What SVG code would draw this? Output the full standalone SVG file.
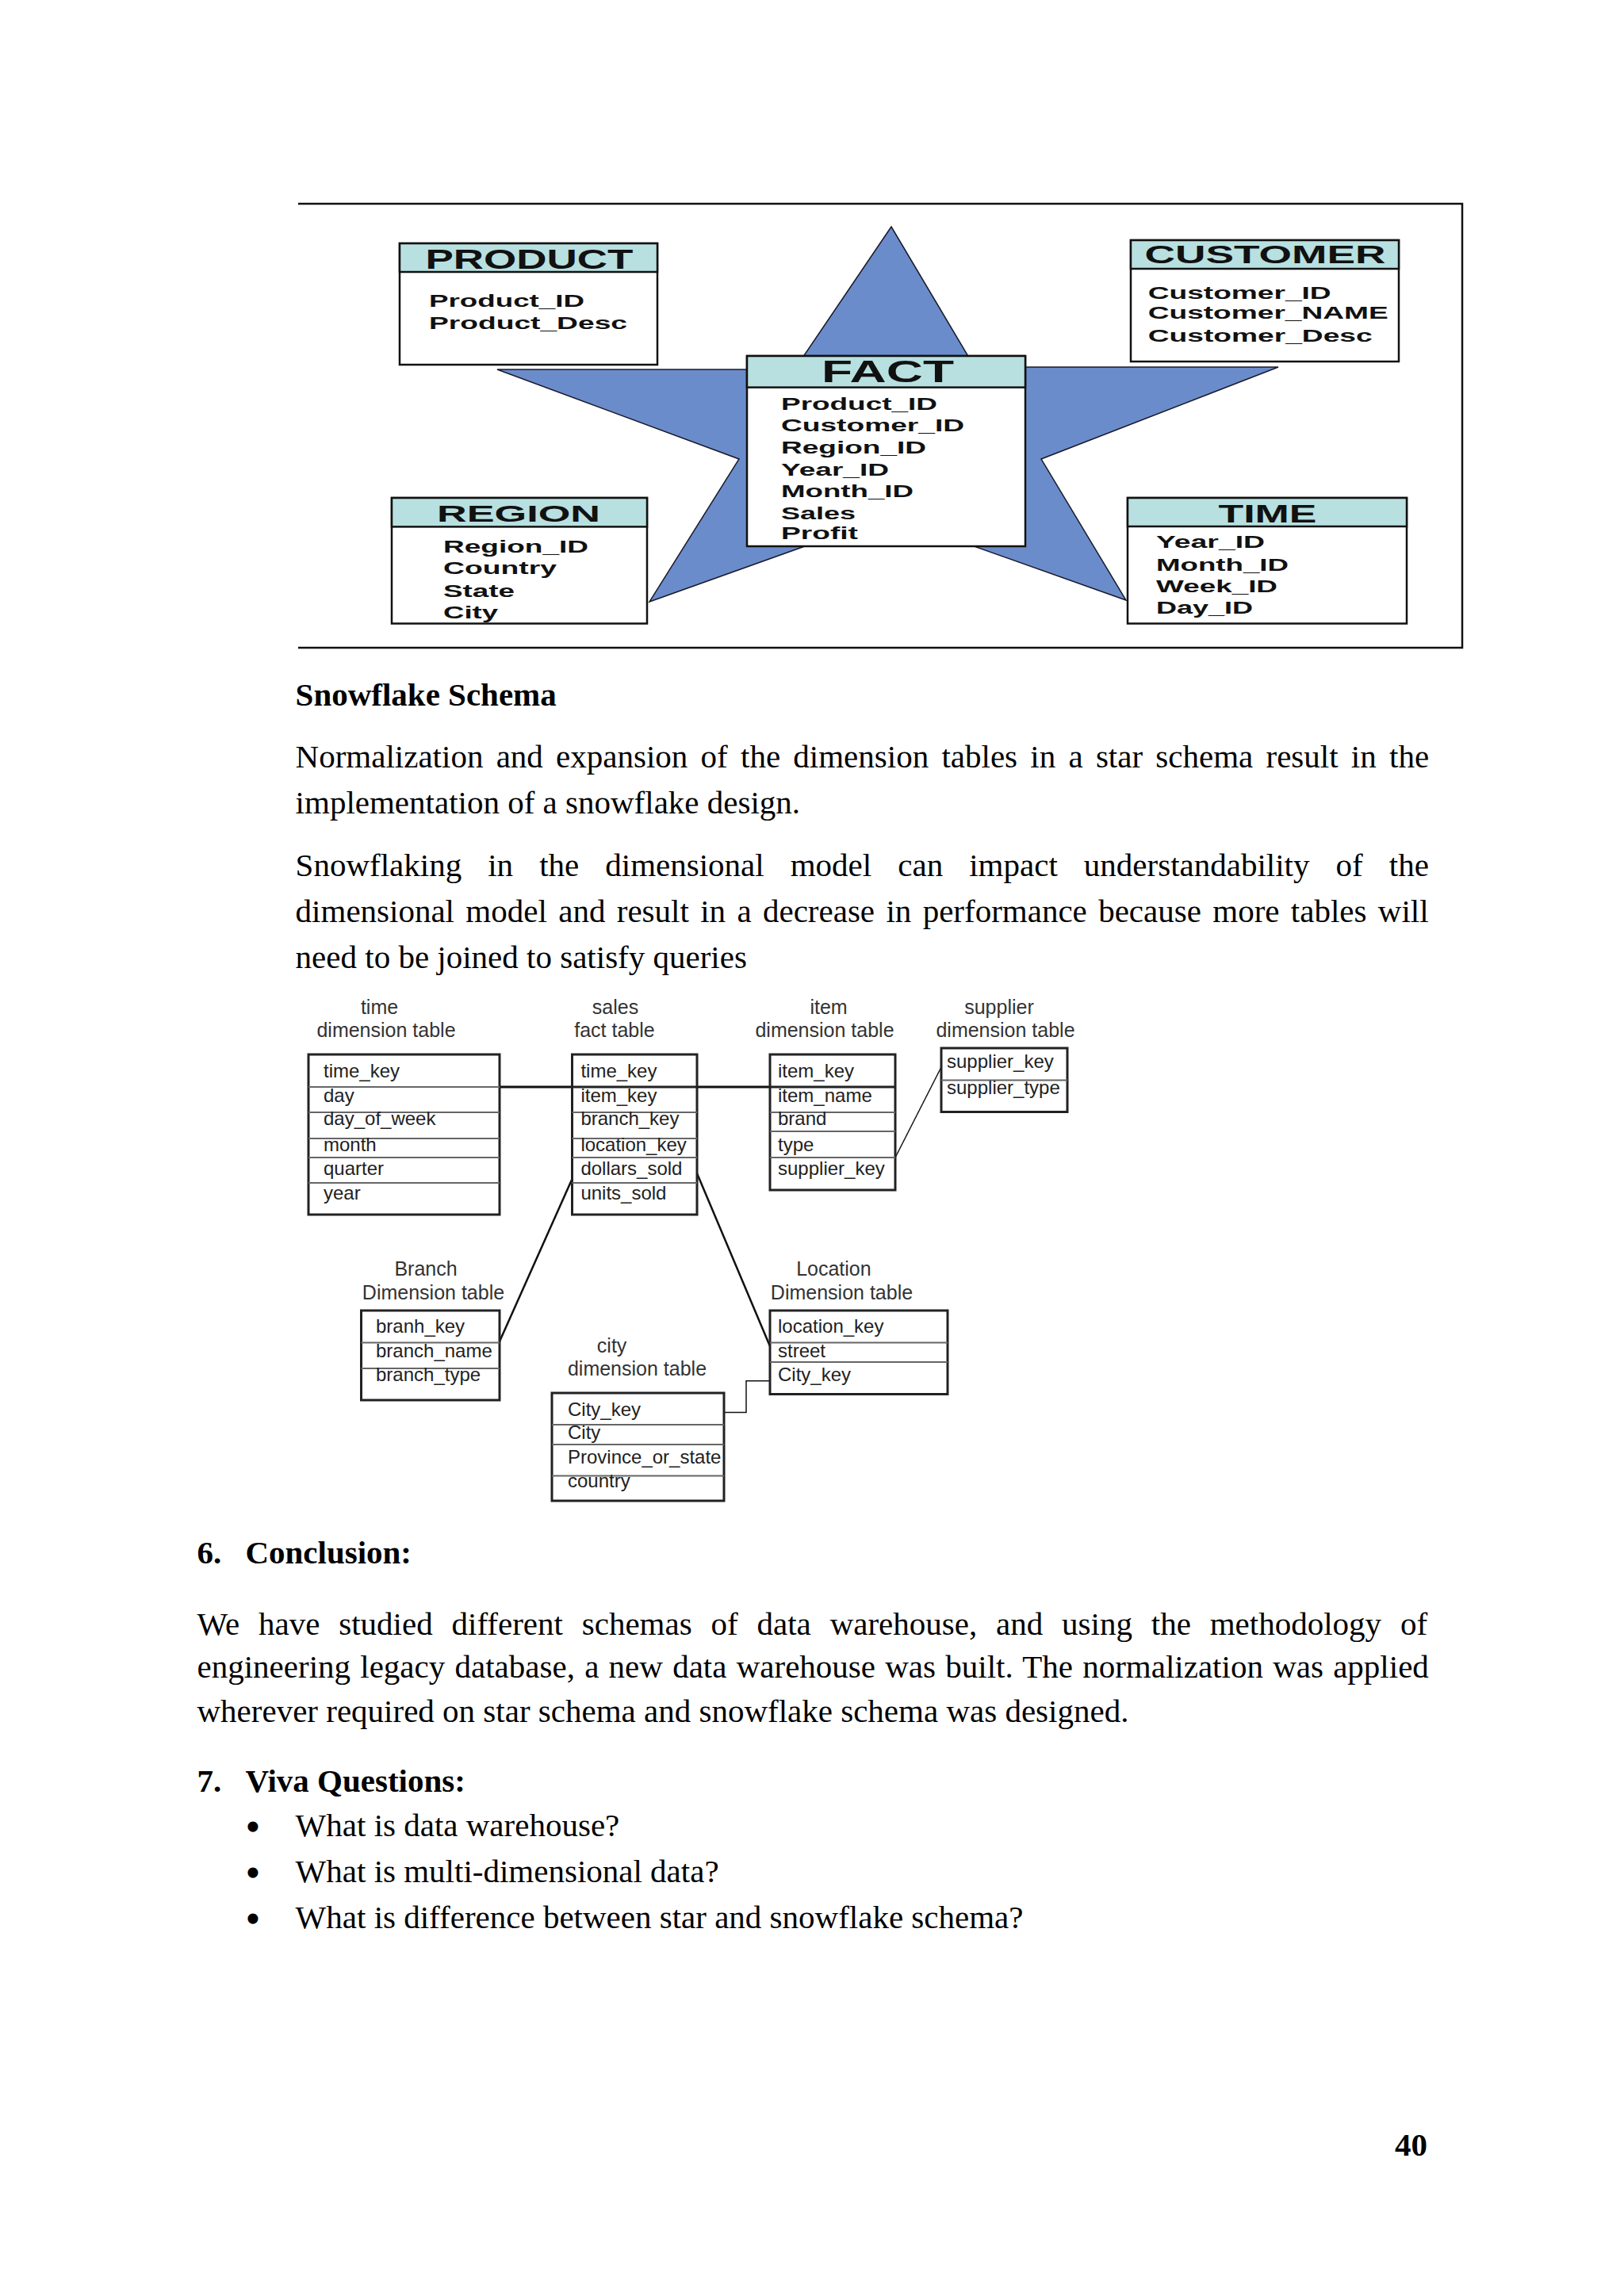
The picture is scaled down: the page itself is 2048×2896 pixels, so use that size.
<svg xmlns="http://www.w3.org/2000/svg" width="2048" height="2896" viewBox="0 0 2048 2896">
<style>
.frame{stroke:#111;stroke-width:2.5;fill:none}
.star{fill:#6B8CCB;stroke:#1a1a2a;stroke-width:1.5}
.box{fill:#fff;stroke:#111;stroke-width:2.5}
.hdr{fill:#B8E0E0;stroke:#111;stroke-width:2.5}
.ht{font-family:"Liberation Sans",Arial,sans-serif;font-weight:bold;fill:#111}
.ft{font-family:"Liberation Sans",Arial,sans-serif;font-weight:bold;font-size:22px;fill:#111}
.tb{fill:#fff;stroke:#222;stroke-width:3}
.rl{stroke:#666;stroke-width:2}
.st{font-family:"Liberation Sans",Arial,sans-serif;font-size:24px;fill:#222}
.lb{font-family:"Liberation Sans",Arial,sans-serif;font-size:25px;fill:#333;text-anchor:middle}
.con{stroke:#111;fill:none}
.body{font-family:"Liberation Serif","Times New Roman",serif;font-size:41px;fill:#000}
.bold{font-weight:bold}
.bul{font-family:"Liberation Serif","Times New Roman",serif;font-size:48px;font-weight:bold;fill:#000;text-anchor:middle}
</style>
<rect width="2048" height="2896" fill="#fff"/>

<g id="star-schema">
  <path class="frame" d="M376 257 H1844 V817 H376"/>
  <polygon id="star" class="star" points="1124,286 1229,463 1612,463 1313,579 1420,757 1121,651 819,759 932,579 627,466 1002,466"/>

  <g id="product">
    <rect class="box" x="504" y="307" width="325" height="153"/>
    <rect class="hdr" x="504" y="307" width="325" height="36"/>
    <text class="ht" x="536.5" y="339" font-size="35" textLength="262" lengthAdjust="spacingAndGlyphs">PRODUCT</text>
    <text class="ft" x="541" y="387" textLength="196" lengthAdjust="spacingAndGlyphs">Product_ID</text>
    <text class="ft" x="541" y="414.6" textLength="250" lengthAdjust="spacingAndGlyphs">Product_Desc</text>
  </g>

  <g id="customer">
    <rect class="box" x="1426" y="303" width="338" height="153"/>
    <rect class="hdr" x="1426" y="303" width="338" height="36"/>
    <text class="ht" x="1443.5" y="332" font-size="32" textLength="304" lengthAdjust="spacingAndGlyphs">CUSTOMER</text>
    <text class="ft" x="1447.7" y="377" textLength="231" lengthAdjust="spacingAndGlyphs">Customer_ID</text>
    <text class="ft" x="1447.7" y="402.4" textLength="303" lengthAdjust="spacingAndGlyphs">Customer_NAME</text>
    <text class="ft" x="1447.7" y="430.6" textLength="283" lengthAdjust="spacingAndGlyphs">Customer_Desc</text>
  </g>

  <g id="fact">
    <rect class="box" x="942" y="449" width="351" height="240"/>
    <rect class="hdr" x="942" y="449" width="351" height="39.6"/>
    <text class="ht" x="1036" y="482" font-size="38" textLength="167" lengthAdjust="spacingAndGlyphs">FACT</text>
    <text class="ft" x="985" y="517" textLength="197" lengthAdjust="spacingAndGlyphs">Product_ID</text>
    <text class="ft" x="985" y="544" textLength="231" lengthAdjust="spacingAndGlyphs">Customer_ID</text>
    <text class="ft" x="985" y="572" textLength="183" lengthAdjust="spacingAndGlyphs">Region_ID</text>
    <text class="ft" x="985" y="600" textLength="136" lengthAdjust="spacingAndGlyphs">Year_ID</text>
    <text class="ft" x="985" y="627" textLength="167" lengthAdjust="spacingAndGlyphs">Month_ID</text>
    <text class="ft" x="985" y="655" textLength="94" lengthAdjust="spacingAndGlyphs">Sales</text>
    <text class="ft" x="985" y="680" textLength="97" lengthAdjust="spacingAndGlyphs">Profit</text>
  </g>

  <g id="region">
    <rect class="box" x="494" y="628" width="322" height="158.5"/>
    <rect class="hdr" x="494" y="628" width="322" height="36.4"/>
    <text class="ht" x="551" y="658" font-size="30" textLength="206" lengthAdjust="spacingAndGlyphs">REGION</text>
    <text class="ft" x="559" y="697" textLength="183" lengthAdjust="spacingAndGlyphs">Region_ID</text>
    <text class="ft" x="559" y="723.6" textLength="143" lengthAdjust="spacingAndGlyphs">Country</text>
    <text class="ft" x="559" y="752.5" textLength="90" lengthAdjust="spacingAndGlyphs">State</text>
    <text class="ft" x="559" y="780" textLength="69" lengthAdjust="spacingAndGlyphs">City</text>
  </g>

  <g id="time">
    <rect class="box" x="1422" y="628" width="352" height="158.5"/>
    <rect class="hdr" x="1422" y="628" width="352" height="36"/>
    <text class="ht" x="1536.5" y="659" font-size="31" textLength="124" lengthAdjust="spacingAndGlyphs">TIME</text>
    <text class="ft" x="1458" y="691.4" textLength="137" lengthAdjust="spacingAndGlyphs">Year_ID</text>
    <text class="ft" x="1458" y="720" textLength="167" lengthAdjust="spacingAndGlyphs">Month_ID</text>
    <text class="ft" x="1458" y="747" textLength="153" lengthAdjust="spacingAndGlyphs">Week_ID</text>
    <text class="ft" x="1458" y="773.6" textLength="122" lengthAdjust="spacingAndGlyphs">Day_ID</text>
  </g>
</g>

<g id="snowflake">
  <g id="connectors">
    <line class="con" stroke-width="3" x1="630" y1="1371" x2="721.5" y2="1371"/>
    <line class="con" stroke-width="3" x1="879" y1="1371" x2="971" y2="1371"/>
    <line class="con" stroke-width="1.5" x1="1129" y1="1460" x2="1187" y2="1346"/>
    <line class="con" stroke-width="2.5" x1="721.5" y1="1487" x2="630" y2="1692"/>
    <line class="con" stroke-width="2.5" x1="879" y1="1480" x2="971" y2="1698"/>
    <polyline class="con" stroke="#555" stroke-width="1.5" points="913,1781.6 941,1781.6 941,1741.7 971,1741.7"/>
  </g>

  <g id="time-dim">
    <text class="lb" x="478.5" y="1279">time</text>
    <text class="lb" x="487" y="1308">dimension table</text>
    <rect class="tb" x="389" y="1330" width="241" height="202"/>
    <path class="rl" d="M389 1371H630M389 1403H630M389 1436H630M389 1460H630M389 1492H630"/>
    <text class="st" x="408" y="1359">time_key</text>
    <text class="st" x="408" y="1390">day</text>
    <text class="st" x="408" y="1419">day_of_week</text>
    <text class="st" x="408" y="1452">month</text>
    <text class="st" x="408" y="1481.5">quarter</text>
    <text class="st" x="408" y="1513">year</text>
  </g>

  <g id="sales-fact">
    <text class="lb" x="776" y="1279">sales</text>
    <text class="lb" x="775" y="1308">fact table</text>
    <rect class="tb" x="721.5" y="1330" width="157.5" height="202"/>
    <path class="rl" d="M721.5 1403H879M721.5 1436H879M721.5 1460H879M721.5 1492H879"/>
    <line x1="721.5" y1="1371" x2="879" y2="1371" stroke="#222" stroke-width="3"/>
    <text class="st" x="732.4" y="1359">time_key</text>
    <text class="st" x="732.4" y="1390">item_key</text>
    <text class="st" x="732.4" y="1419">branch_key</text>
    <text class="st" x="732.4" y="1452">location_key</text>
    <text class="st" x="732.4" y="1481.5">dollars_sold</text>
    <text class="st" x="732.4" y="1513">units_sold</text>
  </g>

  <g id="item-dim">
    <text class="lb" x="1045" y="1279">item</text>
    <text class="lb" x="1040" y="1308">dimension table</text>
    <rect class="tb" x="971" y="1330" width="158" height="171"/>
    <path class="rl" d="M971 1403H1129M971 1427H1129M971 1460H1129"/>
    <line x1="971" y1="1371" x2="1129" y2="1371" stroke="#222" stroke-width="3"/>
    <text class="st" x="981" y="1359">item_key</text>
    <text class="st" x="981" y="1390">item_name</text>
    <text class="st" x="981" y="1419">brand</text>
    <text class="st" x="981" y="1452">type</text>
    <text class="st" x="981" y="1481.5">supplier_key</text>
  </g>

  <g id="supplier-dim">
    <text class="lb" x="1260" y="1279">supplier</text>
    <text class="lb" x="1268" y="1308">dimension table</text>
    <rect class="tb" x="1187" y="1322" width="159" height="80.5"/>
    <path class="rl" d="M1187 1362.5H1346"/>
    <text class="st" x="1194" y="1347">supplier_key</text>
    <text class="st" x="1194" y="1380">supplier_type</text>
  </g>

  <g id="branch-dim">
    <text class="lb" x="537" y="1609">Branch</text>
    <text class="lb" x="546.5" y="1638.5">Dimension table</text>
    <rect class="tb" x="455.5" y="1653" width="174.5" height="113"/>
    <path class="rl" d="M455.5 1693.5H630M455.5 1726H630"/>
    <text class="st" x="474" y="1681">branh_key</text>
    <text class="st" x="474" y="1711.5">branch_name</text>
    <text class="st" x="474" y="1742">branch_type</text>
  </g>

  <g id="location-dim">
    <text class="lb" x="1051.4" y="1609">Location</text>
    <text class="lb" x="1061.5" y="1638.5">Dimension table</text>
    <rect class="tb" x="971" y="1653" width="224" height="105.5"/>
    <path class="rl" d="M971 1693.5H1195M971 1718H1195"/>
    <text class="st" x="981" y="1681">location_key</text>
    <text class="st" x="981" y="1711.5">street</text>
    <text class="st" x="981" y="1742">City_key</text>
  </g>

  <g id="city-dim">
    <text class="lb" x="771.6" y="1706">city</text>
    <text class="lb" x="803.5" y="1734.5">dimension table</text>
    <rect class="tb" x="696" y="1757" width="217" height="136"/>
    <path class="rl" d="M696 1797H913M696 1822H913M696 1861.5H913"/>
    <text class="st" x="716" y="1786">City_key</text>
    <text class="st" x="716" y="1815">City</text>
    <text class="st" x="716" y="1846">Province_or_state</text>
    <text class="st" x="716" y="1876">country</text>
  </g>
</g>

<g id="text">
  <text class="body bold" x="372.6" y="890">Snowflake Schema</text>
  <text class="body" x="372.6" y="968" word-spacing="6">Normalization and expansion of the dimension tables in a star schema result in the</text>
  <text class="body" x="372.6" y="1026">implementation of a snowflake design.</text>
  <text class="body" x="372.6" y="1105" word-spacing="22.8">Snowflaking in the dimensional model can impact understandability of the</text>
  <text class="body" x="372.6" y="1163" word-spacing="4.1">dimensional model and result in a decrease in performance because more tables will</text>
  <text class="body" x="372.6" y="1221">need to be joined to satisfy queries</text>

  <text class="body bold" x="248.5" y="1972">6.</text>
  <text class="body bold" x="309.4" y="1972">Conclusion:</text>
  <text class="body" x="248.5" y="2061.6" word-spacing="13.6">We have studied different schemas of data warehouse, and using the methodology of</text>
  <text class="body" x="248.5" y="2116" word-spacing="2">engineering legacy database, a new data warehouse was built. The normalization was applied</text>
  <text class="body" x="248.5" y="2172">wherever required on star schema and snowflake schema was designed.</text>

  <text class="body bold" x="248.5" y="2260">7.</text>
  <text class="body bold" x="309.4" y="2260">Viva Questions:</text>
  <text class="bul" x="319" y="2320">•</text>
  <text class="body" x="372.6" y="2316">What is data warehouse?</text>
  <text class="bul" x="319" y="2378">•</text>
  <text class="body" x="372.6" y="2374">What is multi-dimensional data?</text>
  <text class="bul" x="319" y="2436">•</text>
  <text class="body" x="372.6" y="2432">What is difference between star and snowflake schema?</text>

  <text class="body bold" x="1800" y="2719" text-anchor="end">40</text>
</g>
</svg>
